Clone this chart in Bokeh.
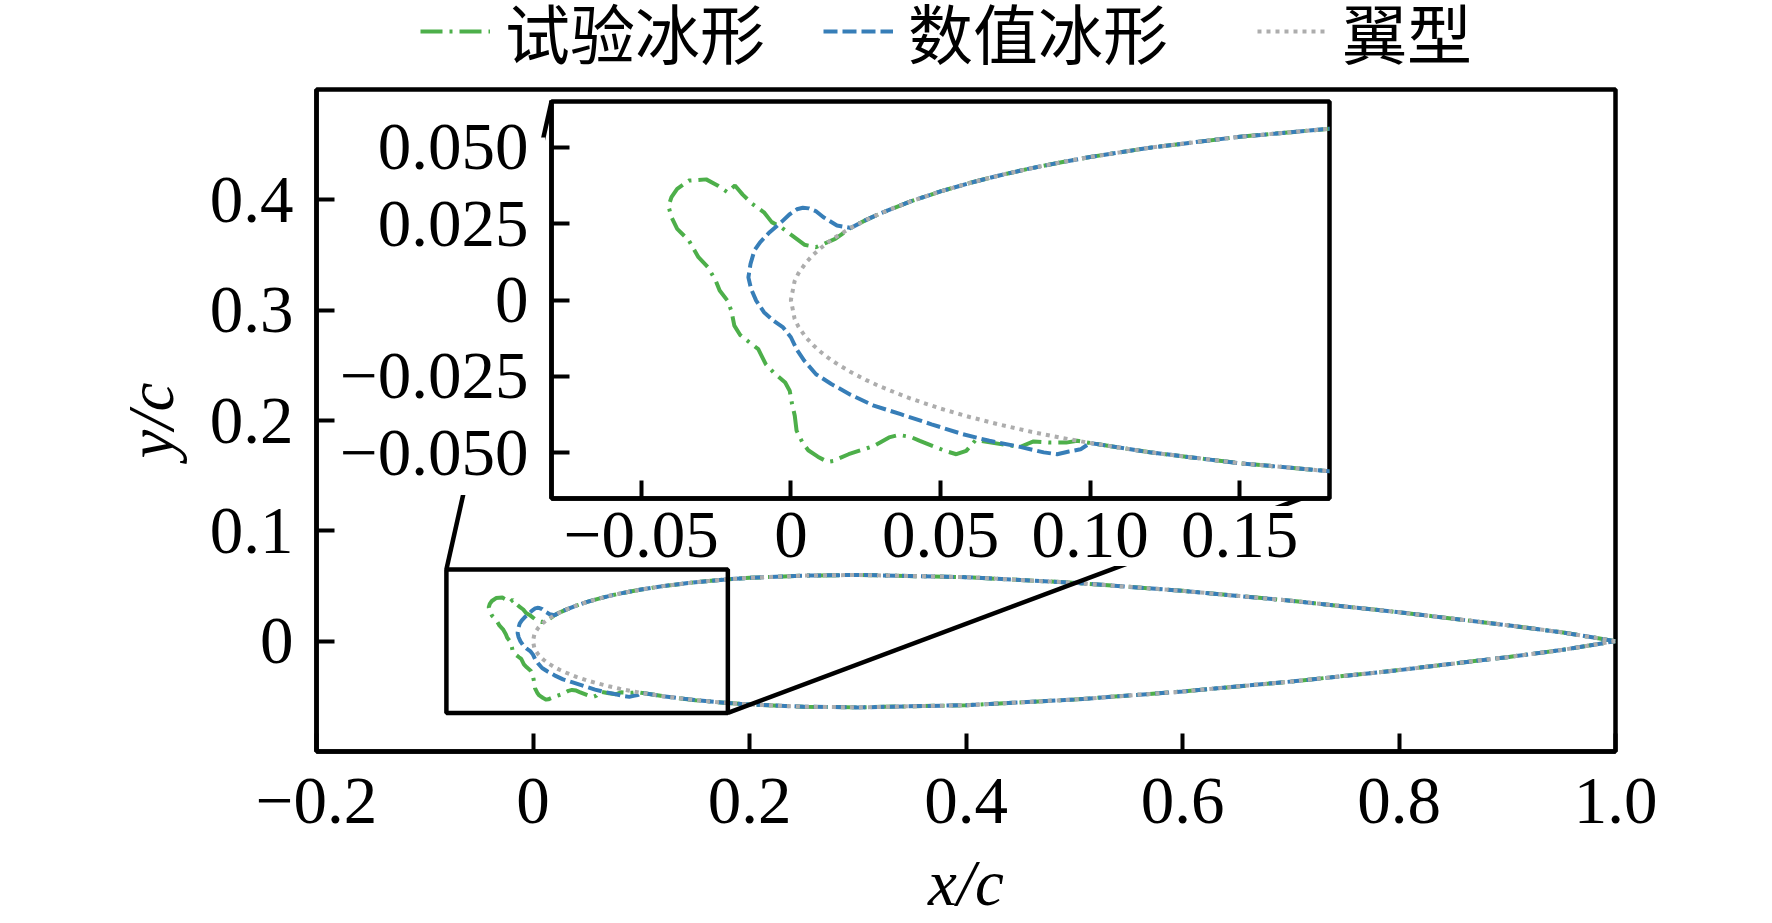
from bokeh.plotting import figure
from bokeh.layouts import column
from bokeh.models import Legend, LegendItem, Range1d, FixedTicker
from bokeh.embed import file_html
from bokeh.resources import INLINE

SERIF = "Liberation Serif"
CJK = "Noto Sans CJK SC"
GREEN, BLUE, GRAY = "#4daf4a", "#377eb8", "#adadad"

# airfoil
upper_x = [1.0,.95,.9,.8,.7,.6,.5,.4,.3,.25,.2,.18,.15,.12,.1,.09,.08,.07,.06,.05,.04,.03,.025,.02]
upper_y = [0.0,.00807,.01448,.02623,.03664,.04563,.05294,.05803,.06002,.05941,.05737,.05607,.05345,.04988,.04683,.04505,.04308,.04087,.03838,.03555,.03228,.0284,.02615,.0236]
nose_x = [.015,.0125,.01,.0075,.005,.0025,.00125,0.0]
nose_y = [.02063,.01894,.01703,.01484,.0122,.0087,.0062,0.0]
lower_x = list(reversed(upper_x))
lower_y = [-v for v in reversed(upper_y)]
nose_lower_x = list(reversed(nose_x))[1:]
nose_lower_y = [-v for v in reversed(nose_y)][1:]

foil_x = upper_x + nose_x + nose_lower_x + lower_x
foil_y = upper_y + nose_y + nose_lower_y + lower_y

# experimental ice horn region
exp_x = [.0148,.0084,.0045,0,-.0032,-.0064,-.0090,-.0129,-.0161,-.0187,-.0212,-.0245,-.0283,-.0341,-.0380,-.0399,-.0409,-.0399,-.0380,-.0341,-.0309,-.0277,-.0251,-.0238,-.0212,-.0199,-.0189,-.0170,-.0129,-.0109,-.0084,-.0058,-.0019,-.0004,.0004,.0013,.0019,.0039,.0058,.0090,.0122,.0142,.0193,.0277,.0328,.0360,.0399,.0431,.0515,.0553,.0586,.0618,.0701,.0766,.0811,.0869,.0920,.0957]
exp_y = [.0200,.0173,.0181,.0214,.0238,.0255,.0287,.0315,.0345,.0375,.0353,.0375,.0395,.0391,.0364,.0337,.0307,.0271,.0233,.0195,.0140,.0107,.0063,.0031,-.0002,-.0035,-.0084,-.0114,-.0146,-.0161,-.0210,-.0237,-.0270,-.0297,-.0341,-.0379,-.0428,-.0467,-.0492,-.0513,-.0530,-.0527,-.0505,-.0478,-.0450,-.0442,-.0448,-.0461,-.0494,-.0505,-.0494,-.0458,-.0472,-.0481,-.0463,-.0467,-.0467,-.0461]

# numerical ice region
num_x = [.0154,.0109,.0085,.0060,.0040,.0020,-.0005,-.0032,-.0071,-.0103,-.0122,-.0135,-.0142,-.0133,-.0116,-.0090,-.0058,-.0026,0,.0019,.0045,.0084,.0135,.0199,.0277,.0367,.0470,.0573,.0663,.0766,.0845,.0890,.0929,.0968]
num_y = [.0244,.0271,.0290,.0300,.0302,.0297,.0280,.0255,.0222,.0189,.0162,.0118,.0074,.0036,-.0002,-.0040,-.0068,-.0090,-.0122,-.0161,-.0199,-.0243,-.0275,-.0310,-.0346,-.0374,-.0407,-.0439,-.0461,-.0481,-.0499,-.0505,-.0496,-.0489]

exp_full_x = upper_x + exp_x + lower_x[9:]
exp_full_y = upper_y + exp_y + lower_y[9:]
num_full_x = upper_x + num_x + lower_x[9:]
num_full_y = upper_y + num_y + lower_y[9:]

main_xticks = [-.2,0,.2,.4,.6,.8,1.0]
main_xlabels = ["\u22120.2","0","0.2","0.4","0.6","0.8","1.0"]
main_yticks = [0,.1,.2,.3,.4]
main_ylabels = ["0","0.1","0.2","0.3","0.4"]
inset_xticks = [-.05,0,.05,.10,.15]
inset_xlabels = ["\u22120.05","0","0.05","0.10","0.15"]
inset_yticks = [-.05,-.025,0,.025,.05]
inset_ylabels = ["\u22120.050","\u22120.025","0","0.025","0.050"]
legend_names = ["试验冰形","数值冰形","翼型"]

DASH_EXP, DASH_NUM, DASH_FOIL = "22 7 3 7", "14 5", "4 5"
LW = 4
FRAME = 4.5


def style(fig, xt, xl, yt, yl, standoff_x, standoff_y):
    fig.grid.visible = False
    fig.outline_line_color = "black"
    fig.outline_line_width = FRAME
    fig.xaxis.ticker = FixedTicker(ticks=xt)
    fig.yaxis.ticker = FixedTicker(ticks=yt)
    fig.xaxis.major_label_overrides = dict(zip(xt, xl))
    fig.yaxis.major_label_overrides = dict(zip(yt, yl))
    for ax, so in ((fig.xaxis[0], standoff_x), (fig.yaxis[0], standoff_y)):
        ax.axis_line_width = FRAME
        ax.axis_line_color = "black"
        ax.major_tick_in = 18
        ax.major_tick_out = 0
        ax.major_tick_line_width = 4
        ax.major_tick_line_color = "black"
        ax.minor_tick_line_color = None
        ax.major_label_standoff = so
        ax.major_label_text_font = SERIF
        ax.major_label_text_font_size = "67px"
        ax.major_label_text_color = "black"
    fig.yaxis[0].major_label_orientation = "horizontal"


p = figure(width=1770, height=921, x_range=Range1d(-.2, 1.0), y_range=Range1d(-.1, .5),
           output_backend="svg", toolbar_location=None,
           min_border_left=316, min_border_right=155, min_border_top=89, min_border_bottom=170)
style(p, main_xticks, main_xlabels, main_yticks, main_ylabels, 27, 23)
p.xaxis[0].axis_label = "x/c"
p.yaxis[0].axis_label = "y/c"
for ax in (p.xaxis[0], p.yaxis[0]):
    ax.axis_label_text_font = SERIF
    ax.axis_label_text_font_style = "italic"
    ax.axis_label_text_font_size = "65px"
    ax.axis_label_text_color = "black"
p.xaxis[0].axis_label_standoff = 21
p.yaxis[0].axis_label_standoff = 20

p.line(exp_full_x, exp_full_y, line_color=GREEN, line_width=LW, line_dash=DASH_EXP)
p.line(num_full_x, num_full_y, line_color=BLUE, line_width=LW, line_dash=DASH_NUM)
p.line(foil_x, foil_y, line_color=GRAY, line_width=LW, line_dash=DASH_FOIL)

# zoom indicator and connectors (hidden behind the inset's label boxes)
p.quad(left=[-.08], right=[.18], bottom=[-.065], top=[.065], fill_color=None,
       line_color="black", line_width=FRAME)
p.line([-.08, .0173], [.065, .49], line_color="black", line_width=FRAME)
p.line([.18, .7358], [-.065, .1388], line_color="black", line_width=FRAME)
p.quad(left=[-.179, .0557], right=[.0112, .7035], bottom=[.1325, .0681], top=[.4564, .1225],
       fill_color="white", line_color=None)

inset = figure(width=1249, height=513, x_range=Range1d(-.08, .18), y_range=Range1d(-.065, .065),
               output_backend="svg", toolbar_location=None, border_fill_color=None,
               background_fill_color="white",
               min_border_left=316, min_border_right=155, min_border_top=6, min_border_bottom=110,
               margin=(-826, 0, 0, 235))
style(inset, inset_xticks, inset_xlabels, inset_yticks, inset_ylabels, 14, 23)
inset.line(exp_full_x, exp_full_y, line_color=GREEN, line_width=LW, line_dash=DASH_EXP)
inset.line(num_full_x, num_full_y, line_color=BLUE, line_width=LW, line_dash=DASH_NUM)
inset.line(foil_x, foil_y, line_color=GRAY, line_width=LW, line_dash=DASH_FOIL)

# legend strip above the axes; its lines lie outside the strip's own range
strip = figure(width=1770, height=90, x_range=Range1d(10, 11), y_range=Range1d(10, 11),
               output_backend="svg", toolbar_location=None, border_fill_color=None,
               background_fill_color=None, outline_line_color=None, x_axis_type=None,
               y_axis_type=None, min_border_left=316, min_border_right=155, min_border_top=0,
               min_border_bottom=0, margin=(-608, 0, 0, 0))
strip.grid.visible = False
legend_x = [104, 507, 941]
label_w = [262, 262, 131]
series = ((exp_full_x, exp_full_y, GREEN, DASH_EXP), (num_full_x, num_full_y, BLUE, DASH_NUM), (foil_x, foil_y, GRAY, DASH_FOIL))
for name, (sx, sy, colour, dash), lx, lw in zip(legend_names, series, legend_x, label_w):
    r = strip.line(sx, sy, line_color=colour, line_width=LW, line_dash=dash)
    strip.add_layout(Legend(items=[LegendItem(label=name, renderers=[r])], location=(lx, 12),
                            border_line_color=None, background_fill_color=None,
                            padding=0, margin=0, spacing=0, glyph_width=70, glyph_height=30,
                            label_standoff=15, label_width=lw, label_height=68,
                            label_text_font=CJK, label_text_font_size="65px",
                            label_text_color="black"), "center")

open("out.html", "w").write(file_html(column(p, inset, strip), INLINE))
